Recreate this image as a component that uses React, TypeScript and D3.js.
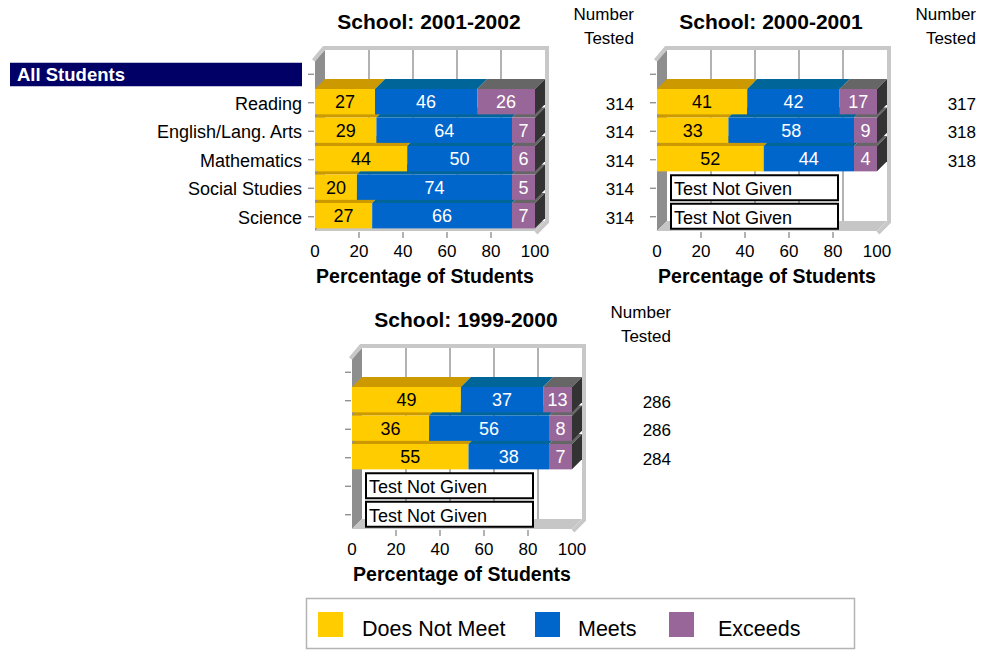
import React, { useEffect, useRef } from 'react';
import * as d3 from 'd3';

// Data
const subjects = ['Reading', 'English/Lang. Arts', 'Mathematics', 'Social Studies', 'Science'];
const rowLabels = ['All Students', ...subjects];
const levels = ['Does Not Meet', 'Meets', 'Exceeds'];
const axisTicks = [0, 20, 40, 60, 80, 100];

const doesNotMeet2002 = [27, 29, 44, 20, 27];
const meets2002 = [46, 64, 50, 74, 66];
const exceeds2002 = [26, 7, 6, 5, 7];
const tested2002 = [314, 314, 314, 314, 314];

const doesNotMeet2001 = [41, 33, 52, null, null];
const meets2001 = [42, 58, 44, null, null];
const exceeds2001 = [17, 9, 4, null, null];
const tested2001 = [317, 318, 318, null, null];

const doesNotMeet2000 = [49, 36, 55, null, null];
const meets2000 = [37, 56, 38, null, null];
const exceeds2000 = [13, 8, 7, null, null];
const tested2000 = [286, 286, 284, null, null];

const frontColors = ['#FFCC00', '#0066CC', '#996699'];
const topColors = ['#CC9900', '#006699', '#666666'];
const labelColors = ['#000000', '#ffffff', '#ffffff'];

const font = "'Liberation Sans', Arial, sans-serif";

const App = () => {
  const chartRef = useRef(null);

  useEffect(() => {
    if (!chartRef.current) return;
    d3.select(chartRef.current).selectAll('*').remove();

    const width = 982;
    const height = 650;
    const plotW = 220;
    const plotH = 171;
    const depth = 10;
    const minSeg = 23; // narrow segments get widened so the label fits

    const svg = d3.select(chartRef.current)
      .append('svg')
      .attr('width', width)
      .attr('height', height)
      .style('font-family', font)
      .style('background', '#fff');

    const panels = [
      { title: 'School: 2001-2002', x0: 315, y0: 60, series: [doesNotMeet2002, meets2002, exceeds2002], tested: tested2002, labels: true },
      { title: 'School: 2000-2001', x0: 657, y0: 60, series: [doesNotMeet2001, meets2001, exceeds2001], tested: tested2001, labels: false },
      { title: 'School: 1999-2000', x0: 352, y0: 358, series: [doesNotMeet2000, meets2000, exceeds2000], tested: tested2000, labels: false }
    ];

    // share of each segment, with small ones pushed up to a minimum width
    const layoutShares = (vals) => {
      const total = d3.sum(vals);
      const minShare = minSeg / plotW * 100;
      const shares = vals.map(v => v / total * 100);
      const smallCount = shares.filter(s => s < minShare).length;
      const bigSum = d3.sum(shares.filter(s => s >= minShare));
      const rest = 100 - smallCount * minShare;
      return shares.map(s => (s < minShare ? minShare : s / bigSum * rest));
    };

    const pts = (arr) => arr.map(p => p.join(',')).join(' ');

    panels.forEach(p => {
      const g = svg.append('g');
      const x = d3.scaleLinear().domain([0, 100]).range([p.x0, p.x0 + plotW]);
      const y = d3.scaleBand().domain(rowLabels).range([p.y0, p.y0 + plotH]);
      const bw = y.bandwidth();
      const x0 = p.x0, x1 = p.x0 + plotW, y0 = p.y0, y1 = p.y0 + plotH;
      const cy = (r) => y(r) + bw / 2;

      // back wall
      g.append('rect')
        .attr('x', x0 + depth).attr('y', y0 - depth)
        .attr('width', plotW).attr('height', plotH)
        .attr('fill', '#ffffff');

      axisTicks.slice(1, -1).forEach(t => {
        g.append('line')
          .attr('x1', x(t) + depth).attr('x2', x(t) + depth)
          .attr('y1', y0 - depth).attr('y2', y1 - depth)
          .attr('stroke', '#999999').attr('stroke-width', 1.5);
      });

      // left wall and floor
      g.append('polygon')
        .attr('points', pts([[x0, y0], [x0 + depth, y0 - depth], [x0 + depth, y1 - depth], [x0, y1]]))
        .attr('fill', '#8e8e8e');
      g.append('polygon')
        .attr('points', pts([[x0, y1], [x0 + depth, y1 - depth], [x1 + depth, y1 - depth], [x1, y1]]))
        .attr('fill', '#c6c6c6');

      // wall rim
      g.append('path')
        .attr('d', `M${x0 - 1.5},${y0 + 0.5}L${x0 + depth - 1},${y0 - depth - 2}L${x1 + depth + 2},${y0 - depth - 2}L${x1 + depth + 2},${y1 - depth + 1}L${x1 + 1},${y1 + 2}`)
        .attr('fill', 'none')
        .attr('stroke', '#c8c8c8')
        .attr('stroke-width', 4)
        .attr('stroke-linejoin', 'miter');

      // y ticks
      rowLabels.forEach(r => {
        g.append('line')
          .attr('x1', x0 - 7).attr('x2', x0 - 1)
          .attr('y1', cy(r)).attr('y2', cy(r))
          .attr('stroke', '#808080').attr('stroke-width', 1.2);
      });

      // x ticks and labels
      axisTicks.slice(1, -1).forEach(t => {
        g.append('line')
          .attr('x1', x(t)).attr('x2', x(t))
          .attr('y1', y1 + 1).attr('y2', y1 + 7)
          .attr('stroke', '#808080').attr('stroke-width', 1.2);
      });
      axisTicks.forEach(t => {
        g.append('text')
          .attr('x', x(t)).attr('y', y1 + 26)
          .attr('text-anchor', 'middle')
          .style('font-size', '17px')
          .text(t);
      });
      g.append('text')
        .attr('x', (x0 + x1) / 2).attr('y', y1 + 52)
        .attr('text-anchor', 'middle')
        .style('font-size', '19.5px').style('font-weight', 'bold')
        .text('Percentage of Students');

      // title
      g.append('text')
        .attr('x', x0 + 114).attr('y', y0 - 31)
        .attr('text-anchor', 'middle')
        .style('font-size', '21px').style('font-weight', 'bold')
        .text(p.title);

      // number tested
      g.append('text').attr('x', x0 + 319).attr('y', y0 - 40)
        .attr('text-anchor', 'end').style('font-size', '17px').text('Number');
      g.append('text').attr('x', x0 + 319).attr('y', y0 - 16)
        .attr('text-anchor', 'end').style('font-size', '17px').text('Tested');

      // bars, drawn bottom row first so upper fronts cover lower top faces
      const barH = bw * 0.89;
      for (let i = subjects.length - 1; i >= 0; i--) {
        const s = subjects[i];
        const vals = p.series.map(a => a[i]);
        if (vals[0] == null) {
          g.append('rect')
            .attr('x', x0 + 14).attr('y', cy(s) - 13)
            .attr('width', 167).attr('height', 25)
            .attr('fill', '#ffffff').attr('stroke', '#000').attr('stroke-width', 2);
          g.append('text')
            .attr('x', x0 + 17).attr('y', cy(s) + 7)
            .style('font-size', '18px')
            .text('Test Not Given');
          continue;
        }
        const shares = layoutShares(vals);
        const ends = d3.cumsum(shares);
        const t = y(s) + 0.5;
        const b = t + barH;
        shares.forEach((sh, k) => {
          const xa = x(ends[k] - sh);
          const xb = x(ends[k]);
          g.append('polygon')
            .attr('points', pts([[xa, t], [xb, t], [xb + depth, t - depth], [xa + depth, t - depth]]))
            .attr('fill', topColors[k]);
          g.append('rect')
            .attr('x', xa).attr('y', t)
            .attr('width', xb - xa).attr('height', barH)
            .attr('fill', frontColors[k]);
        });
        const xe = x(ends[ends.length - 1]);
        g.append('polygon')
          .attr('points', pts([[xe, t], [xe + depth, t - depth], [xe + depth, b - depth], [xe, b]]))
          .attr('fill', '#333333');
        shares.forEach((sh, k) => {
          g.append('text')
            .attr('x', x(ends[k] - sh / 2)).attr('y', t + barH / 2 + 6.5)
            .attr('text-anchor', 'middle')
            .style('font-size', '18px')
            .attr('fill', labelColors[k])
            .text(vals[k]);
        });
        g.append('text')
          .attr('x', x0 + 319).attr('y', cy(s) + 7)
          .attr('text-anchor', 'end').style('font-size', '17px')
          .text(p.tested[i]);
      }

      // row labels (first panel only)
      if (p.labels) {
        g.append('rect')
          .attr('x', 10).attr('y', cy(rowLabels[0]) - 11.5)
          .attr('width', x0 - 23).attr('height', 23.5)
          .attr('fill', '#000066');
        g.append('text')
          .attr('x', 17).attr('y', cy(rowLabels[0]) + 6.5)
          .attr('fill', '#fff')
          .style('font-size', '18.5px').style('font-weight', 'bold')
          .text(rowLabels[0]);
        subjects.forEach(s => {
          g.append('text')
            .attr('x', x0 - 13).attr('y', cy(s) + 7)
            .attr('text-anchor', 'end')
            .style('font-size', '18px')
            .text(s);
        });
      }
    });

    // legend
    const legend = svg.append('g');
    legend.append('rect')
      .attr('x', 306.5).attr('y', 598.5)
      .attr('width', 548).attr('height', 50)
      .attr('fill', '#fff').attr('stroke', '#b4b4b4').attr('stroke-width', 1.5);
    const legendX = [318, 535, 669];
    const legendTextX = [362, 578, 718];
    levels.forEach((l, i) => {
      legend.append('rect')
        .attr('x', legendX[i]).attr('y', 612)
        .attr('width', 25).attr('height', 25)
        .attr('fill', frontColors[i]);
      legend.append('text')
        .attr('x', legendTextX[i]).attr('y', 636)
        .style('font-size', '21.5px')
        .text(l);
    });
  }, []);

  return (
    <div style={{ position: 'absolute', left: 0, top: 0, width: 982, height: 650, background: '#fff' }}>
      <div ref={chartRef} />
    </div>
  );
};

export default App;
